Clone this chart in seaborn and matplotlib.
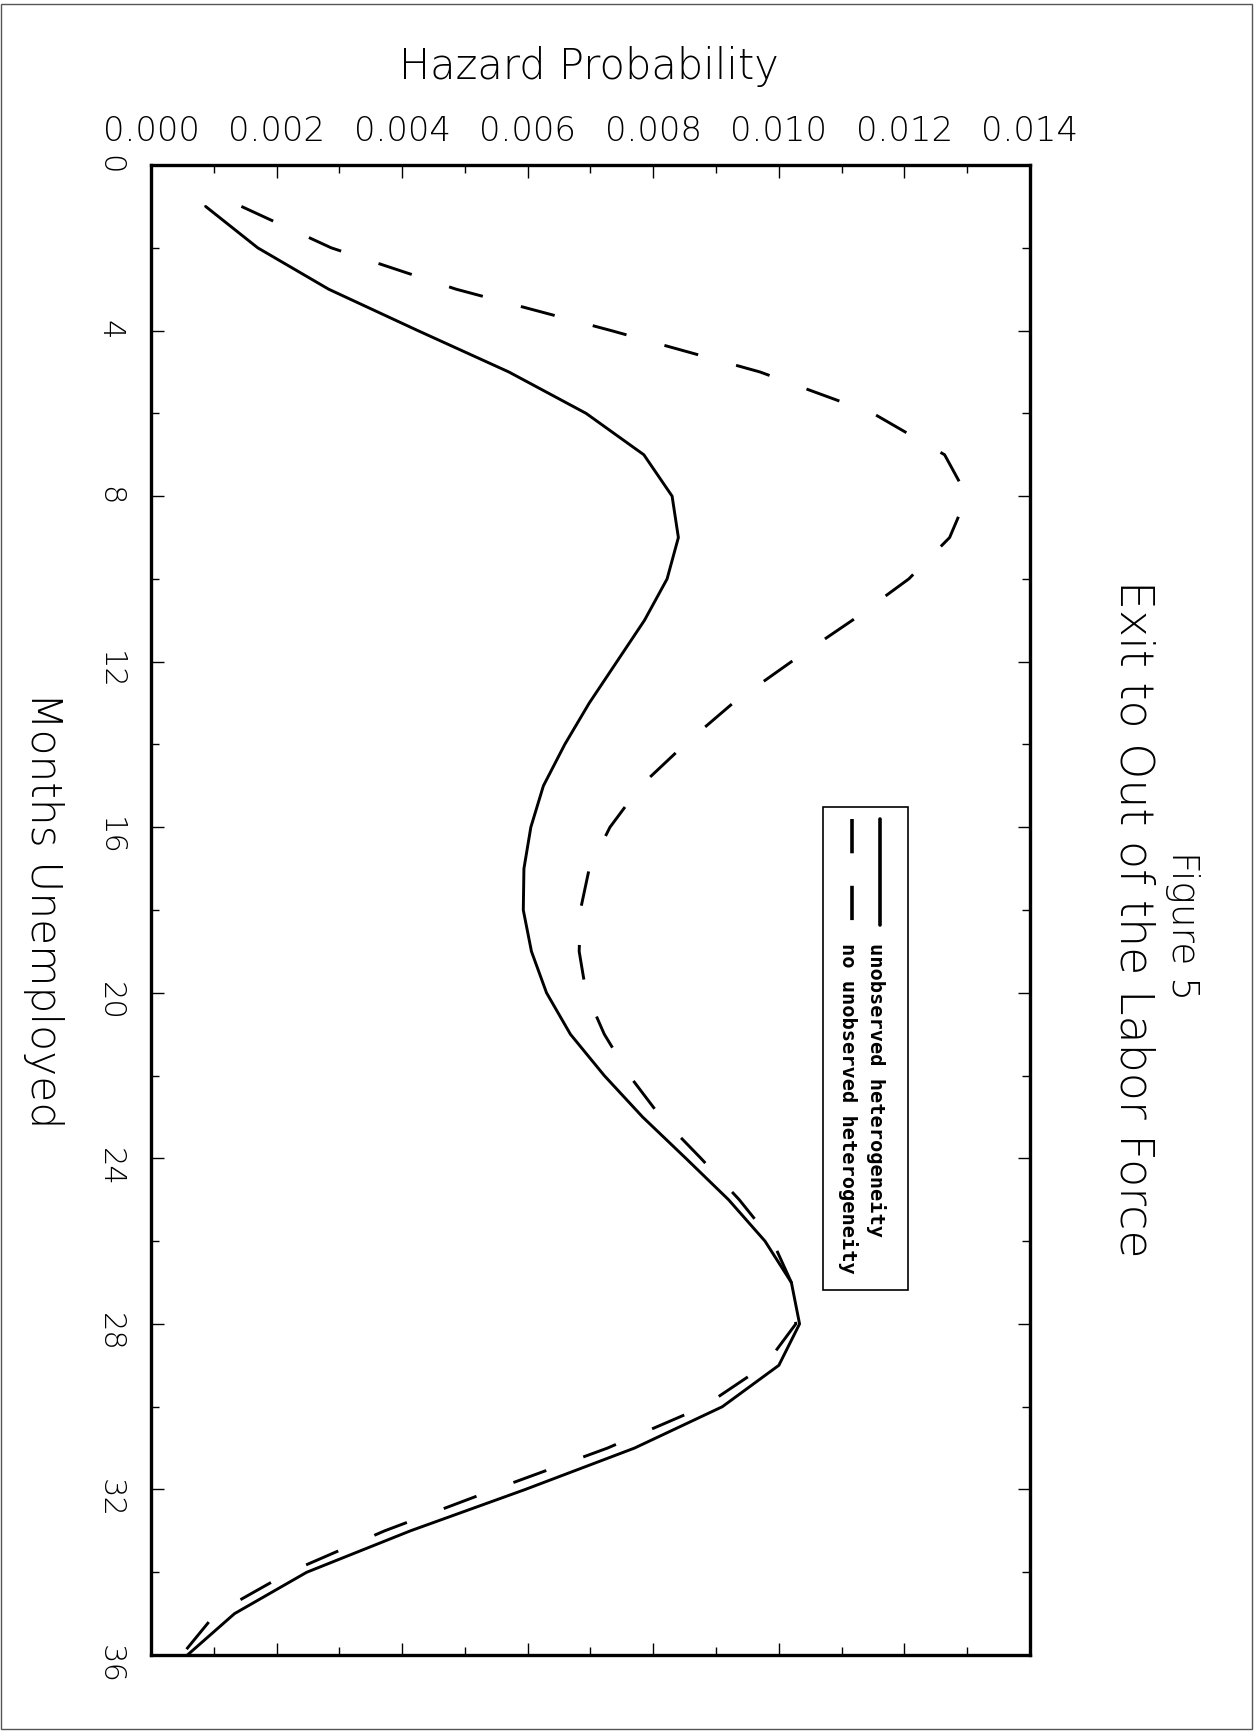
import numpy as np
import pandas as pd
import seaborn as sns
import matplotlib.pyplot as plt
from matplotlib.patches import Rectangle
from matplotlib.ticker import MultipleLocator, FormatStrFormatter

# months unemployed (vertical axis, grows downward)
months = list(range(1, 37))

# hazard with unobserved heterogeneity (solid)
hazard_unobs = [0.00087, 0.00170, 0.00283, 0.00425, 0.00570, 0.00693, 0.00785, 0.00830,
                0.00840, 0.00822, 0.00786, 0.00742, 0.00698, 0.00659, 0.00625, 0.00605,
                0.00594, 0.00593, 0.00606, 0.00630, 0.00668, 0.00722, 0.00783, 0.00852,
                0.00920, 0.00978, 0.01020, 0.01033, 0.01000, 0.00910, 0.00770, 0.00596,
                0.00413, 0.00248, 0.00133, 0.00058]

# hazard without unobserved heterogeneity (dashed)
hazard_no_unobs = [0.00144, 0.00287, 0.00486, 0.00733, 0.00970, 0.01150, 0.01264, 0.01300,
                   0.01272, 0.01207, 0.01117, 0.01020, 0.00927, 0.00850, 0.00780, 0.00731,
                   0.00698, 0.00684, 0.00682, 0.00693, 0.00722, 0.00762, 0.00812, 0.00876,
                   0.00937, 0.00990, 0.01020, 0.01027, 0.00978, 0.00880, 0.00727, 0.00547,
                   0.00372, 0.00220, 0.00103, 0.00049]

labels = ["unobserved heterogeneity", "no unobserved heterogeneity"]

df = pd.DataFrame({"month": months, "unobs": hazard_unobs, "no_unobs": hazard_no_unobs})

sns.set_style("ticks")
plt.rcParams["font.family"] = ["DejaVu Sans"]
plt.rcParams["font.weight"] = "light"
plt.rcParams["axes.labelweight"] = "light"
for key in ["text.color", "axes.labelcolor", "xtick.color", "ytick.color", "axes.edgecolor"]:
    plt.rcParams[key] = "black"

fig = plt.figure(figsize=(12.57, 17.33), dpi=100)
ax = fig.add_axes([0.1201, 0.0444, 0.6993, 0.8598])

sns.lineplot(data=df, x="unobs", y="month", orient="y", sort=False, estimator=None,
             color="black", lw=2.1, legend=False, ax=ax)
sns.lineplot(data=df, x="no_unobs", y="month", orient="y", sort=False, estimator=None,
             color="black", lw=2.1, linestyle=(0, (12, 13.5)), legend=False, ax=ax)

ax.set_xlim(0, 0.014)
ax.set_ylim(36, 0)

# ticks: hazard on top, months on the left, all pointing in
ax.xaxis.set_major_locator(MultipleLocator(0.002))
ax.xaxis.set_minor_locator(MultipleLocator(0.001))
ax.xaxis.set_major_formatter(FormatStrFormatter("%.3f"))
ax.yaxis.set_major_locator(MultipleLocator(4))
ax.yaxis.set_minor_locator(MultipleLocator(2))
ax.tick_params(axis="x", which="both", top=True, bottom=True, labeltop=True,
               labelbottom=False, direction="in", labelsize=24.5, pad=13)
ax.tick_params(axis="y", which="both", left=True, right=True, labelleft=True,
               direction="in", labelsize=22, pad=19, labelrotation=270)
ax.tick_params(which="major", length=9, width=1.0)
ax.tick_params(which="minor", length=6, width=1.0)

for sp in ax.spines.values():
    sp.set_linewidth(2.4)
    sp.set_visible(True)

ax.set_xlabel("Hazard Probability", fontsize=30, va="center", ha="center", weight="light")
ax.xaxis.set_label_coords(0.498, 1.0671)
ax.set_ylabel("Months Unemployed", fontsize=30.5, rotation=270, va="center", ha="center",
              weight="light")
ax.yaxis.set_label_coords(-0.1217, 0.5007)

# titles, rotated like the rest of the page
ax.text(1.174, 0.49, "Figure 5", transform=ax.transAxes, rotation=270,
        ha="center", va="center", fontsize=27)
ax.text(1.118, 0.4946, "Exit to Out of the Labor Force", transform=ax.transAxes,
        rotation=270, ha="center", va="center", fontsize=33)

# legend drawn by hand because it is rotated
ax.add_patch(Rectangle((0.7645, 0.245), 0.8612 - 0.7645, 0.569 - 0.245,
                       transform=ax.transAxes, fill=False, lw=1.2, ec="black"))
ax.plot([0.8294, 0.8294], [0.5611, 0.490], transform=ax.transAxes, color="black", lw=2.6)
ax.plot([0.7975, 0.7975], [0.5611, 0.490], transform=ax.transAxes, color="black", lw=2.6,
        linestyle=(0, (9.5, 9.0)))
ax.text(0.8248, 0.4785, labels[0], transform=ax.transAxes, rotation=270,
        ha="center", va="top", fontsize=14.7, family="DejaVu Sans Mono", weight="bold")
ax.text(0.7930, 0.4785, labels[1], transform=ax.transAxes, rotation=270,
        ha="center", va="top", fontsize=14.7, family="DejaVu Sans Mono", weight="bold")

# thin page frame
fig.patches.append(Rectangle((0.001, 0.002), 0.995, 0.995, transform=fig.transFigure,
                             fill=False, lw=1.0, ec="#555555"))

fig.savefig("out.png", dpi=100)
